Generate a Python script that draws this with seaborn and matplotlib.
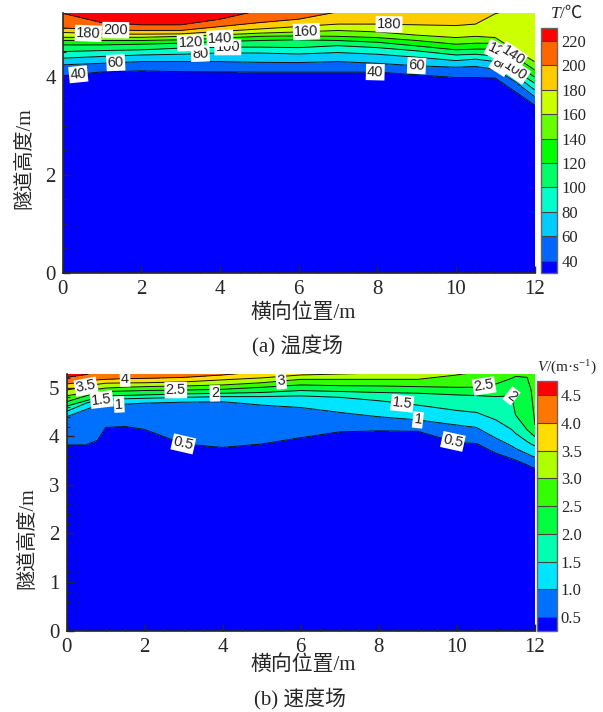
"""
Tunnel cross-section: temperature field (a) and velocity field (b) as filled contours
"""
import numpy as np
import seaborn as sns
import matplotlib.pyplot as plt
from matplotlib.ticker import MultipleLocator

sns.set_theme(style='ticks', context='notebook')
plt.rcParams['font.family'] = ['Liberation Serif', 'Noto Sans CJK SC']
plt.rcParams['axes.unicode_minus'] = False
plt.rcParams['mathtext.fontset'] = 'custom'
plt.rcParams['mathtext.rm'] = 'Liberation Serif'
plt.rcParams['mathtext.it'] = 'Liberation Serif:italic'

# height (m) of each isotherm at the x stations
t_x = [0, 1, 2, 3, 4, 5, 6, 7, 8, 9, 10, 10.5, 11, 11.5, 12]
t_40 = [4.015, 4.095, 4.115, 4.10, 4.095, 4.09, 4.09, 4.09, 4.09, 4.035, 3.98, 3.98, 3.97, 3.695, 3.42]
t_60 = [4.24, 4.27, 4.305, 4.305, 4.305, 4.29, 4.285, 4.305, 4.27, 4.22, 4.19, 4.205, 4.15, 3.90, 3.59]
t_80 = [4.375, 4.41, 4.44, 4.455, 4.48, 4.48, 4.46, 4.49, 4.455, 4.395, 4.325, 4.355, 4.305, 4.035, 3.73]
t_100 = [4.51, 4.53, 4.545, 4.58, 4.60, 4.60, 4.59, 4.63, 4.59, 4.525, 4.44, 4.455, 4.42, 4.135, 3.865]
t_120 = [4.645, 4.645, 4.66, 4.68, 4.715, 4.735, 4.75, 4.735, 4.70, 4.625, 4.545, 4.56, 4.56, 4.27, 3.99]
t_140 = [4.735, 4.735, 4.735, 4.75, 4.78, 4.82, 4.83, 4.82, 4.795, 4.735, 4.66, 4.68, 4.68, 4.41, 4.135]
t_160 = [4.80, 4.80, 4.80, 4.82, 4.85, 4.885, 4.91, 4.94, 4.91, 4.845, 4.795, 4.82, 4.795, 4.545, 4.305]
t_180 = [4.90, 4.87, 4.865, 4.87, 4.92, 4.97, 5.02, 5.07, 5.07, 5.055, 5.04, 5.07, 5.28, 5.40, 5.50]
t_200 = [4.99, 4.95, 4.94, 4.94, 5.02, 5.10, 5.17, 5.32, 5.40, 5.40, 5.40, 5.45, 5.50, 5.55, 5.60]
t_220 = [5.29, 5.10, 5.055, 5.055, 5.17, 5.35, 5.45, 5.50, 5.50, 5.50, 5.50, 5.55, 5.60, 5.65, 5.70]
t_rows = [t_40, t_60, t_80, t_100, t_120, t_140, t_160, t_180, t_200, t_220]
t_vals = [40, 60, 80, 100, 120, 140, 160, 180, 200, 220]
t_floor, t_ceil = 30, 230.5
t_colors = ['#0000ff', '#0066ff', '#00ccff', '#00ffcc', '#00ff66', '#00ff00',
            '#66ff00', '#ccff00', '#ffcc00', '#ff6600', '#ff0000']

# same for the velocity isolines
v_x = [0, .5, .8, 1, 1.5, 2, 3, 4, 5, 6, 7, 8, 9, 10, 10.5, 11, 11.4, 11.5, 11.8, 11.9, 12]
v_05 = [3.82, 3.82, 3.92, 4.18, 4.20, 4.14, 3.84, 3.77, 3.84, 3.97, 4.09, 4.11, 4.10, 3.87, 3.85, 3.65, 3.54, 3.51, 3.41, 3.37, 3.34]
v_10 = [4.40, 4.55, 4.64, 4.64, 4.66, 4.68, 4.70, 4.71, 4.64, 4.59, 4.49, 4.40, 4.335, 4.23, 4.18, 3.96, 3.80, 3.75, 3.64, 3.60, 3.57]
v_15 = [4.51, 4.68, 4.75, 4.76, 4.77, 4.78, 4.80, 4.815, 4.815, 4.83, 4.80, 4.73, 4.64, 4.53, 4.49, 4.335, 4.14, 4.06, 3.89, 3.84, 3.80]
v_20 = [4.62, 4.73, 4.80, 4.83, 4.84, 4.85, 4.87, 4.884, 4.90, 4.94, 4.92, 4.90, 4.884, 4.85, 4.836, 4.815, 4.83, 4.44, 4.13, 4.06, 3.99]
v_25 = [4.71, 4.83, 4.90, 4.92, 4.93, 4.94, 4.95, 4.966, 5.007, 5.055, 5.04, 5.035, 5.02, 5.007, 5.007, 5.075, 5.19, 5.23, 5.21, 4.95, 4.23]
v_30 = [4.83, 4.90, 4.97, 4.99, 5.01, 5.02, 5.035, 5.055, 5.10, 5.17, 5.17, 5.17, 5.17, 5.26, 5.32, 5.36, 5.38, 5.38, 5.38, 5.38, 5.38]
v_35 = [4.95, 5.02, 5.07, 5.09, 5.097, 5.10, 5.117, 5.16, 5.20, 5.26, 5.28, 5.30, 5.35, 5.38, 5.40, 5.42, 5.42, 5.42, 5.42, 5.42, 5.42]
v_40 = [5.075, 5.12, 5.16, 5.17, 5.185, 5.19, 5.21, 5.26, 5.33, 5.36, 5.40, 5.42, 5.44, 5.46, 5.47, 5.47, 5.47, 5.47, 5.47, 5.47, 5.47]
v_45 = [5.21, 5.27, 5.33, 5.38, 5.44, 5.50, 5.50, 5.50, 5.50, 5.50, 5.50, 5.50, 5.50, 5.50, 5.50, 5.50, 5.50, 5.50, 5.50, 5.50, 5.50]
v_rows = [v_05, v_10, v_15, v_20, v_25, v_30, v_35, v_40, v_45]
v_vals = [.5, 1, 1.5, 2, 2.5, 3, 3.5, 4, 4.5]
v_floor, v_ceil = .25, 4.76
v_colors = ['#0000ff', '#0070ff', '#00e5ff', '#00ffb0', '#00ff40', '#33ff00',
            '#b0ff00', '#ffdd00', '#ff7700', '#ff0000']

# contour label spots (level, x, y)
t_labels = [(40, .4, 4.02), (60, 1.35, 4.27), (180, .65, 4.87), (200, 1.35, 4.95), (120, 3.25, 4.68),
            (140, 4.0, 4.78), (80, 3.5, 4.46), (100, 4.2, 4.6), (160, 6.2, 4.92), (180, 8.3, 5.07),
            (40, 7.95, 4.09), (60, 9.0, 4.22), (120, 11.1, 4.5), (140, 11.4, 4.38), (80, 11.15, 4.25), (100, 11.5, 4.1)]
v_labels = [(3.5, .5, 5.02), (4, 1.5, 5.185), (1.5, .9, 4.76), (1, 1.35, 4.65), (2.5, 2.8, 4.95), (2, 3.8, 4.88),
            (3, 5.5, 5.13), (.5, 3.0, 3.86), (2.5, 10.7, 5.02), (2, 11.4, 4.83), (1.5, 8.6, 4.68), (1, 9.0, 4.335), (.5, 9.9, 3.9)]

W, H = 603, 712
fig = plt.figure(figsize=(W / 100, H / 100), dpi=100)


def px_axes(left, right, top, bottom):
    return fig.add_axes([left / W, 1 - bottom / H, (right - left) / W, (bottom - top) / H])


def field(ax, cax, xs, rows, vals, floor, ceil, colors, ymax, labels):
    # every isoline is one row of a curvilinear grid, so the lines follow the read heights
    n = len(xs)
    Y = np.array([[0.0] * n] + rows + [[6.0] * n])
    X = np.tile(xs, (len(Y), 1))
    Z = np.tile(np.array([floor] + vals + [ceil])[:, None], (1, n))
    levels = [floor] + vals + [ceil]
    pal = sns.color_palette(colors)
    cf = ax.contourf(X, Y, Z, levels=levels, colors=pal)
    ax.set_xlim(0, 12)
    ax.set_ylim(0, ymax)
    # one contour set per level: manual clabel only picks the right level this way
    for lev in vals:
        cs = ax.contour(X, Y, Z, levels=[lev], colors='#101010', linewidths=0.7)
        for lab, lx, ly in labels:
            if lab == lev:
                ax.clabel(cs, manual=[(lx, ly)], fmt='%g', fontsize=10.5, inline=False)
        for t in cs.labelTexts:
            t.set_family('Liberation Sans')
            t.set_color('#222222')
            t.set_bbox(dict(facecolor='white', edgecolor='none', pad=0.8))
    ax.xaxis.set_major_locator(MultipleLocator(2))
    ax.xaxis.set_minor_locator(MultipleLocator(.5))
    ax.tick_params(which='major', direction='in', length=5, width=1, labelsize=15, pad=5, top=False, right=False)
    ax.tick_params(which='minor', direction='in', length=2.5, width=.8, top=False, right=False)
    sns.despine(ax=ax)
    for s in ax.spines.values():
        s.set_linewidth(1.2)
    ax.set_axisbelow(False)
    cb = fig.colorbar(cf, cax=cax, spacing='proportional', ticks=vals, drawedges=True)
    cb.outline.set_edgecolor('#666666')
    cb.outline.set_linewidth(1)
    cb.dividers.set_color('#444444')
    cb.dividers.set_linewidth(.8)
    cax.tick_params(length=0, labelsize=12, pad=3)
    return cb


ax1 = px_axes(62.7, 534.5, 13.3, 272.7)
cax1 = px_axes(540.7, 557, 28, 273)
field(ax1, cax1, t_x, t_rows, t_vals, t_floor, t_ceil, t_colors, 5.29, t_labels)
ax1.yaxis.set_major_locator(MultipleLocator(2))
ax1.yaxis.set_minor_locator(MultipleLocator(.5))

ax2 = px_axes(66.5, 535, 374, 630.7)
cax2 = px_axes(537, 556.7, 380.7, 631)
cb2 = field(ax2, cax2, v_x, v_rows, v_vals, v_floor, v_ceil, v_colors, 5.28, v_labels)
cb2.set_ticklabels(['%.1f' % v for v in v_vals])
ax2.yaxis.set_major_locator(MultipleLocator(1))
ax2.yaxis.set_minor_locator(MultipleLocator(.2))

fs = 15
fig.text(303 / W, 1 - 313 / H, '横向位置/m', ha='center', va='center', fontsize=fs)
fig.text(297 / W, 1 - 346 / H, '(a) 温度场', ha='center', va='center', fontsize=15)
fig.text(25 / W, 1 - 158 / H, '隧道高度/m', rotation=90, ha='center', va='center', fontsize=14.5)
fig.text(303 / W, 1 - 665 / H, '横向位置/m', ha='center', va='center', fontsize=fs)
fig.text(300 / W, 1 - 699 / H, '(b) 速度场', ha='center', va='center', fontsize=15)
fig.text(28 / W, 1 - 538 / H, '隧道高度/m', rotation=90, ha='center', va='center', fontsize=14.5)
fig.text(560 / W, 1 - 14 / H, 'T', style='italic', ha='right', va='center', fontsize=12.5)
fig.text(560 / W, 1 - 14 / H, '/℃', ha='left', va='center', fontsize=12.5)
fig.text(567 / W, 1 - 368 / H, r'$\mathit{V}$/(m·s$^{-1}$)', ha='center', va='center', fontsize=11)

fig.savefig('out.png', dpi=100)
